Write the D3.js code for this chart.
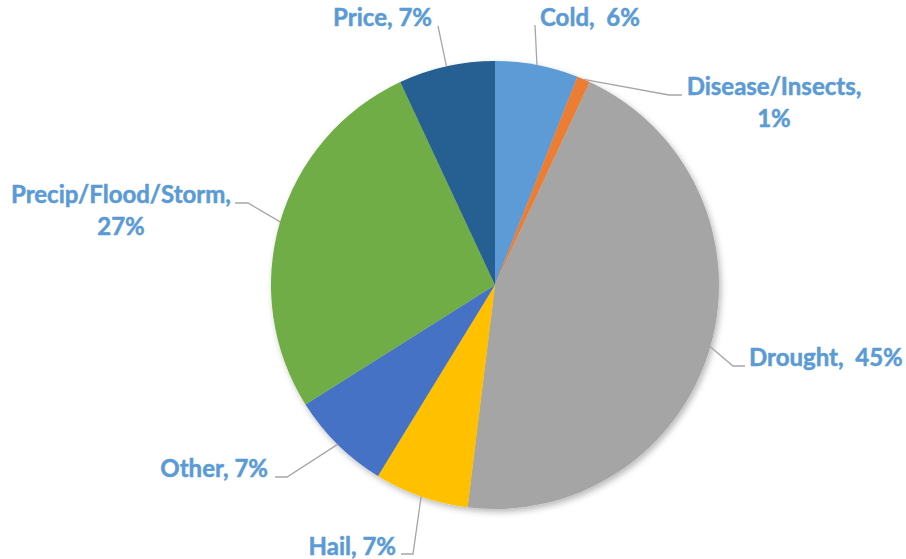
<!DOCTYPE html>
<html>
<head>
<meta charset="utf-8">
<script src="https://cdn.jsdelivr.net/npm/d3@7"></script>
<style>
  html, body { margin: 0; padding: 0; background: #ffffff; }
  svg { display: block; }
  text { font-family: Lato, "Open Sans", sans-serif; font-weight: bold; white-space: pre; }
</style>
</head>
<body>
<svg id="chart" width="906" height="559"></svg>
<script>
// ---- data ----
const categories = ["Cold", "Disease/Insects", "Drought", "Hail", "Other", "Precip/Flood/Storm", "Price"];
const values = [6.0, 0.95, 45.0, 6.8, 7.3, 27.0, 6.95];
const labelTexts = [["Cold,  6%"], ["Disease/Insects,", "1%"], ["Drought,  45%"], ["Hail, 7%"], ["Other, 7%"], ["Precip/Flood/Storm,", "27%"], ["Price, 7%"]];
const colors = ["#5B9BD5", "#ED7D31", "#A5A5A5", "#FFC000", "#4472C4", "#70AD47", "#255E91"];

// ---- layout (label placement) ----
const cx = 495, cy = 285, R = 224;
const labelLayout = [
  { x: 540, y: 26, anchor: "start", lead: [[535, 25]] },
  { x: 774, y: 95, anchor: "middle", lead: [[669, 95], [682, 95]] },
  { x: 749, y: 366, anchor: "start", lead: [[733, 366], [745, 366]] },
  { x: 396, y: 555, anchor: "end", lead: [[413, 554], [401, 554]] },
  { x: 268, y: 477, anchor: "end", lead: [[287, 477], [275, 477]] },
  { x: 121, y: 203, anchor: "middle", lead: [[248, 203], [235, 203]] },
  { x: 432, y: 26, anchor: "end", lead: [[438, 26]] }
];
const lineGap = 32;

const svg = d3.select("#chart");
const defs = svg.append("defs");
const f = defs.append("filter").attr("id", "shadow").attr("x", "-10%").attr("y", "-10%").attr("width", "130%").attr("height", "130%");
f.append("feDropShadow").attr("dx", 2).attr("dy", 3).attr("stdDeviation", 3).attr("flood-color", "#000").attr("flood-opacity", 0.28);

const pie = d3.pie().sort(null).value(d => d)(values);
const arc = d3.arc().innerRadius(0).outerRadius(R);

const g = svg.append("g").attr("transform", `translate(${cx},${cy})`);
const slices = g.append("g").attr("filter", "url(#shadow)");
slices.selectAll("path").data(pie).join("path")
  .attr("d", arc)
  .attr("fill", (d, i) => colors[i]);

// leader lines
const leaders = svg.append("g");
pie.forEach((d, i) => {
  const a = (d.startAngle + d.endAngle) / 2;
  const p0 = [cx + R * Math.sin(a), cy - R * Math.cos(a)];
  const pts = [p0].concat(labelLayout[i].lead);
  leaders.append("path")
    .attr("d", d3.line()(pts))
    .attr("fill", "none")
    .attr("stroke", "#A6A6A6")
    .attr("stroke-width", 1.3);
});

// labels
const labels = svg.append("g");
labelTexts.forEach((lines, i) => {
  const L = labelLayout[i];
  const t = labels.append("text")
    .attr("x", L.x).attr("y", L.y)
    .attr("text-anchor", L.anchor)
    .attr("fill", "#5B9BD5")
    .attr("stroke", "#5B9BD5")
    .attr("stroke-width", 0.5)
    .attr("font-size", 24);
  lines.forEach((s, k) => {
    t.append("tspan").attr("x", L.x).attr("y", L.y + k * lineGap).text(s);
  });
});
</script>
</body>
</html>
